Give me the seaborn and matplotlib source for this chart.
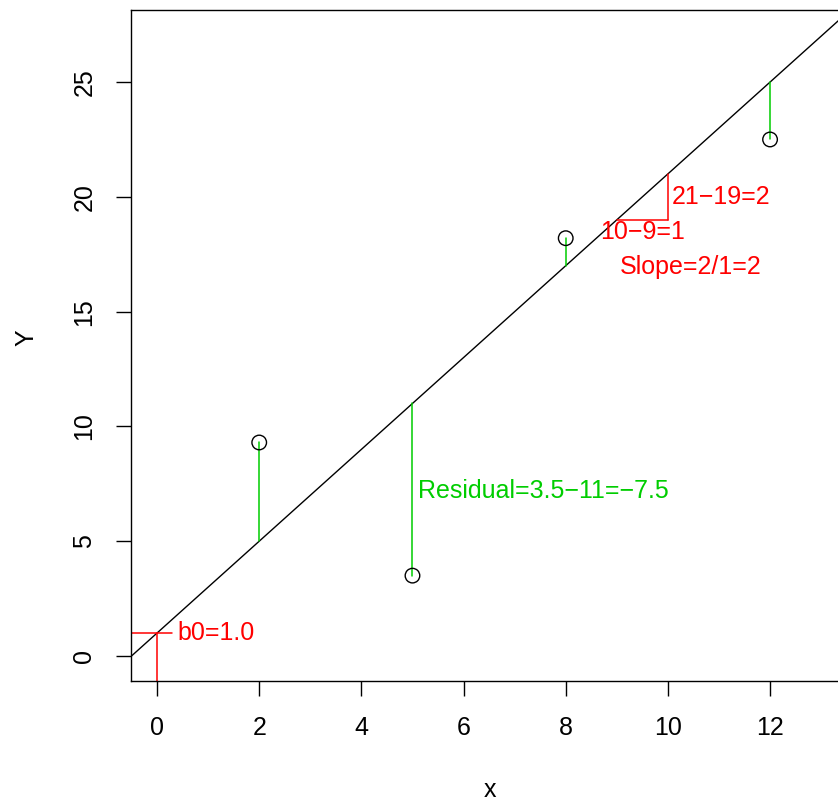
import numpy as np
import pandas as pd
import matplotlib
matplotlib.use("Agg")
import matplotlib.pyplot as plt
import seaborn as sns

# Observations and fitted line y = b0 + b1 * x
x_obs = [2, 5, 8, 12]
y_obs = [9.3, 3.5, 18.2, 22.5]
b0 = 1.0
b1 = 2.0

x_ticks = [0, 2, 4, 6, 8, 10, 12]
y_ticks = [0, 5, 10, 15, 20, 25]

GREEN = "#00CD00"
RED = "#FF0000"

sns.set_theme(style="ticks")
plt.rcParams["font.family"] = ["Liberation Sans", "DejaVu Sans"]
FS = 18

fig = plt.figure(figsize=(8.38, 8.02), dpi=100)
ax = fig.add_axes([131 / 838, 1 - 681 / 802, 1 - 131 / 838, (681 - 10) / 802])

xlim = (-0.51, 13.33)
ylim = (-1.09, 28.14)

# Fitted regression line across the whole panel
line_df = pd.DataFrame({"x": [xlim[0] - 1, xlim[1] + 1]})
line_df["y"] = b0 + b1 * line_df["x"]
sns.lineplot(data=line_df, x="x", y="y", color="black", linewidth=1.0, ax=ax)

# Residual segments from each observation to the line
for xi, yi in zip(x_obs, y_obs):
    ax.plot([xi, xi], [yi, b0 + b1 * xi], color=GREEN, linewidth=1.1)

# Observed points
pts = pd.DataFrame({"x": x_obs, "y": y_obs})
sns.scatterplot(data=pts, x="x", y="y", ax=ax, s=110, facecolor="none",
                edgecolor="black", linewidth=1.0, zorder=5)

# Intercept marker
ax.plot([xlim[0], 0.3], [b0, b0], color=RED, linewidth=1.1)
ax.plot([0, 0], [b0, ylim[0]], color=RED, linewidth=1.1)
ax.text(0.4, b0, "b0=1.0", color=RED, fontsize=FS, ha="left", va="center")

# Slope triangle
ax.plot([9, 10], [19, 19], color=RED, linewidth=1.1)
ax.plot([10, 10], [19, 21], color=RED, linewidth=1.1)
ax.text(10.08, 20, "21\u221219=2", color=RED, fontsize=FS, ha="left", va="center")
ax.text(9.5, 18.45, "10\u22129=1", color=RED, fontsize=FS, ha="center", va="center")
ax.text(10.45, 16.95, "Slope=2/1=2", color=RED, fontsize=FS, ha="center", va="center")

# Residual annotation for the point at x = 5
ax.text(5.1, 7.2, "Residual=3.5\u221211=\u22127.5", color=GREEN, fontsize=FS,
        ha="left", va="center")

ax.set_xlim(*xlim)
ax.set_ylim(*ylim)
ax.set_xticks(x_ticks)
ax.set_yticks(y_ticks)
ax.set_xticklabels([str(v) for v in x_ticks])
ax.set_yticklabels([str(v) for v in y_ticks], rotation=90, va="center")
ax.tick_params(axis="both", length=11, width=1.0, color="black",
               labelsize=FS, labelcolor="black", pad=14, direction="out")

ax.set_xlabel("x", fontsize=FS, color="black")
ax.set_ylabel("Y", fontsize=FS, color="black")
ax.xaxis.set_label_coords((490 - 131) / (838 - 131), -(778 - 681) / 671)
ax.yaxis.set_label_coords(-(131 - 38) / (838 - 131), (681 - 338) / 671)

for side in ["left", "top", "bottom"]:
    ax.spines[side].set_color("black")
    ax.spines[side].set_linewidth(1.0)
ax.spines["right"].set_visible(False)
ax.set_facecolor("white")
fig.patch.set_facecolor("white")

fig.savefig("out.png", dpi=100)
